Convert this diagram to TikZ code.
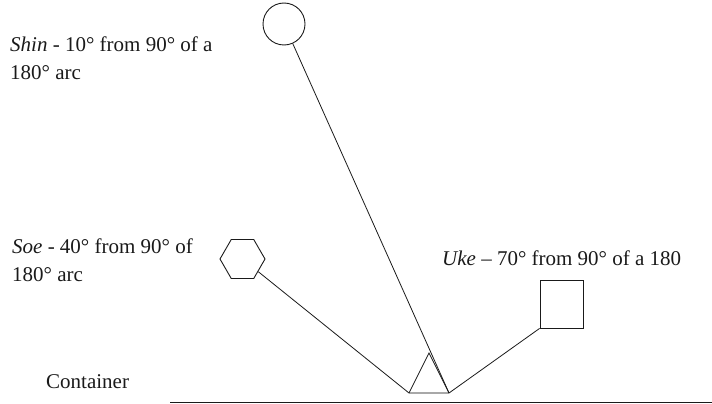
\documentclass[tikz,border=0pt]{standalone}
\usepackage{fontspec}
\setmainfont{Liberation Serif}
\usetikzlibrary{positioning,shapes.geometric}
\definecolor{kink}{HTML}{1A1A1A}
\definecolor{kgrey}{HTML}{A8A8A8}

\tikzset{
  piece/.style={draw=kink,line width=0.9pt,inner sep=0pt},
  stem/.style={kink,line width=0.8pt},
  note/.style={inner sep=0pt,text=kink,align=left,
    font=\fontsize{21}{28}\selectfont}
}

\begin{document}
\begin{tikzpicture}[x=1pt,y=-1pt]
  \useasboundingbox (0,0) rectangle (712,404);

  % container
  \coordinate (rimL) at (170,402.5);
  \coordinate (rimR) at (712,402.5);
  \draw[kink,line width=1.4pt] (rimL) -- (rimR);
  \node[note,anchor=base west] (cont) at (46,388) {Container};

  % holder
  \coordinate (holdT) at (429,353);
  \coordinate (holdL) at (409,393);
  \coordinate (holdR) at (449,393);
  \draw[kgrey,line width=1.4pt] (holdL) -- (holdR);
  \draw[stem] (holdL) -- (holdT) -- (holdR);

  % shin
  \node[piece,circle,minimum size=42pt] (shin) at (284,24) {};
  \node[note,anchor=north west] (shinTxt) at (10,37)
    {\textit{Shin} - 10° from 90° of a\\180° arc};
  \draw[stem] (shin) -- (holdR);

  % soe
  \node[piece,regular polygon,regular polygon sides=6,minimum size=45pt] (soe) at (242.5,259) {};
  \node[note,anchor=north west] (soeTxt) at (12,239)
    {\textit{Soe} - 40° from 90° of\\180° arc};
  \draw[stem] (soe) -- (holdL);

  % uke
  \node[piece,rectangle,minimum width=43pt,minimum height=48pt] (uke) at (561.5,304) {};
  \node[note,anchor=base west] (ukeTxt) at (442,265)
    {\textit{Uke} – 70° from 90° of a 180};
  \draw[stem] (uke.south west) -- (holdR);
\end{tikzpicture}
\end{document}
